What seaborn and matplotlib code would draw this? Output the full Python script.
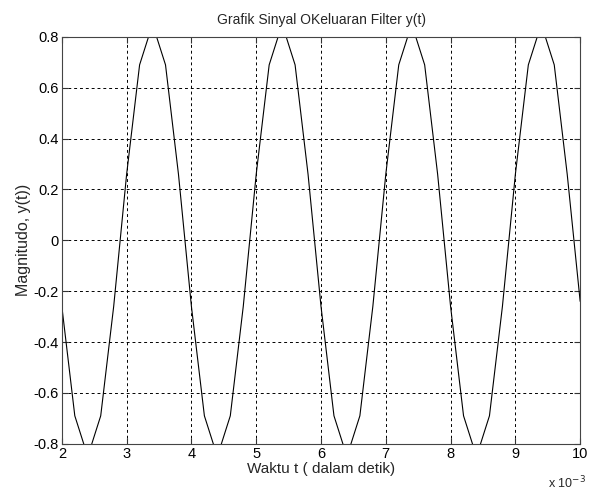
import matplotlib
matplotlib.use('Agg')
import matplotlib.pyplot as plt
import numpy as np
import pandas as pd
import seaborn as sns

# Sampled filter output (time in ms, i.e. x 10^-3 s)
t_ms = [2.0, 2.2, 2.4, 2.6, 2.8, 3.0, 3.2, 3.4, 3.6, 3.8,
        4.0, 4.2, 4.4, 4.6, 4.8, 5.0, 5.2, 5.4, 5.6, 5.8,
        6.0, 6.2, 6.4, 6.6, 6.8, 7.0, 7.2, 7.4, 7.6, 7.8,
        8.0, 8.2, 8.4, 8.6, 8.8, 9.0, 9.2, 9.4, 9.6, 9.8, 10.0]
y_vals = [-0.26, -0.69, -0.85, -0.69, -0.26, 0.26, 0.69, 0.85, 0.69, 0.26,
          -0.26, -0.69, -0.85, -0.69, -0.26, 0.26, 0.69, 0.85, 0.69, 0.26,
          -0.26, -0.69, -0.85, -0.69, -0.26, 0.26, 0.69, 0.85, 0.69, 0.26,
          -0.26, -0.69, -0.85, -0.69, -0.26, 0.26, 0.69, 0.85, 0.69, 0.26, -0.24]

x_ticks = [2, 3, 4, 5, 6, 7, 8, 9, 10]
y_ticks = [-0.8, -0.6, -0.4, -0.2, 0, 0.2, 0.4, 0.6, 0.8]
y_tick_labels = ['-0.8', '-0.6', '-0.4', '-0.2', '0', '0.2', '0.4', '0.6', '0.8']

df = pd.DataFrame({'t': t_ms, 'y': y_vals})

sns.set_style('white')
plt.rcParams['font.family'] = ['Liberation Sans', 'DejaVu Sans']
plt.rcParams['font.size'] = 10

fig = plt.figure(figsize=(5.89, 4.92), dpi=100)
ax = fig.add_axes([0.105, 0.098, 0.880, 0.827])

sns.lineplot(data=df, x='t', y='y', ax=ax, color='black', linewidth=0.8)

ax.set_xlim(2, 10)
ax.set_ylim(-0.8, 0.8)
ax.set_xticks(x_ticks)
ax.set_xticklabels([str(v) for v in x_ticks])
ax.set_yticks(y_ticks)
ax.set_yticklabels(y_tick_labels)

ax.grid(True, color='black', linestyle=(0, (3, 3)), linewidth=0.7)
ax.tick_params(direction='in', length=4, top=True, right=True, bottom=True, left=True,
               labelsize=10.5, colors='#333333', labelcolor='black', pad=2)
for s in ax.spines.values():
    s.set_color('#444444')
    s.set_linewidth(0.8)

ax.set_title('Grafik Sinyal OKeluaran Filter y(t)', fontsize=10, pad=9)
ax.set_xlabel('Waktu t ( dalam detik)', fontsize=11, labelpad=1)
ax.set_ylabel('Magnitudo, y(t))', fontsize=11.5, labelpad=2)
fig.text(0.994, 0.002, r'x 10$^{-3}$', ha='right', va='bottom', fontsize=9)

fig.savefig('out.png', dpi=100)
